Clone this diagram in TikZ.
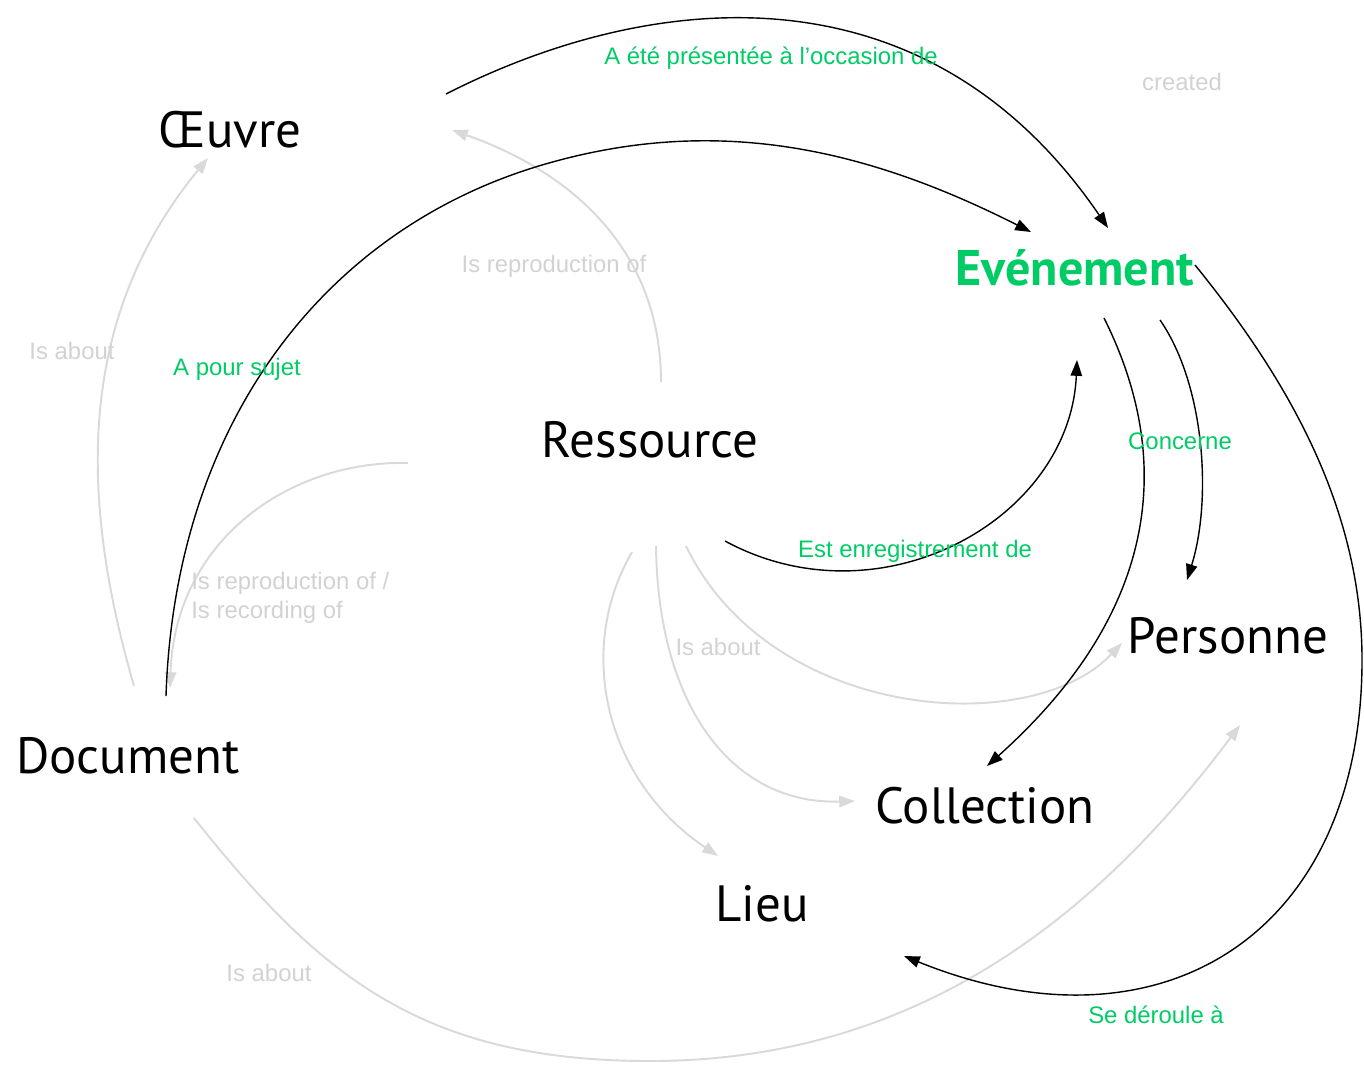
\documentclass[tikz,border=0pt]{standalone}
\usepackage{fontspec}
\setmainfont{Liberation Sans}
\newfontfamily\nodefont{PT Sans}
\usetikzlibrary{arrows.meta}
\definecolor{evgreen}{RGB}{0,204,102}
\definecolor{lightgr}{RGB}{217,217,217}
\definecolor{labgr}{RGB}{210,210,210}
\tikzset{
  entity/.style={inner sep=0pt, font=\nodefont\fontsize{29}{33}\selectfont, text=black},
  rel/.style={inner sep=0pt, font=\fontsize{13.6}{16}\selectfont, text=evgreen},
  grlab/.style={inner sep=0pt, font=\fontsize{13.6}{16}\selectfont, text=labgr},
  blackarc/.style={draw=black, line width=0.8pt, -{Triangle[length=9pt,width=6.5pt]}},
  blackline/.style={draw=black, line width=0.8pt},
  grayarc/.style={draw=lightgr, line width=1.1pt, -{Triangle[length=9pt,width=6.5pt]}},
  grayline/.style={draw=lightgr, line width=1.1pt}
}
\begin{document}
\begin{tikzpicture}[x=0.02cm,y=-0.02cm]
\useasboundingbox (0,0) rectangle (1364,1066);
% entities
\node[entity] (oeuvre) at (230,130) {Œuvre};
\node[entity, text=evgreen, font=\nodefont\bfseries\fontsize{28.5}{32}\selectfont] (event) at (1075,268) {Evénement};
\node[entity] (ressource) at (650,440) {Ressource};
\node[entity] (personne) at (1228,636) {Personne};
\node[entity] (document) at (128,756) {Document};
\node[entity] (collection) at (985,806) {Collection};
\node[entity] (lieu) at (762,904) {Lieu};
% connector end points
\coordinate (oeR) at (446,94);
\coordinate (evTL) at (1108,228);
\coordinate (docT) at (166,696);
\coordinate (mid1) at (549,163);
\coordinate (evL) at (1031,232);
\coordinate (resB) at (725,541);
\coordinate (evB) at (1077,360);
\coordinate (evB1) at (1104,318);
\coordinate (colT) at (987,766);
\coordinate (evB2) at (1160,320);
\coordinate (perT) at (1187,580);
\coordinate (evR) at (1195,265);
\coordinate (rightmost) at (1362,660);
\coordinate (lieuR) at (904,956);
\coordinate (resT) at (661,382);
\coordinate (oeR2) at (452,130);
\coordinate (docT2) at (134,686);
\coordinate (oeB) at (208,158);
\coordinate (resL) at (408,463);
\coordinate (docT3) at (170,688);
\coordinate (resB1) at (632,552);
\coordinate (lieuT) at (718,856);
\coordinate (resB2) at (656,546);
\coordinate (colL) at (855,801);
\coordinate (resB3) at (686,546);
\coordinate (perL) at (1122,643);
\coordinate (docB) at (194,818);
\coordinate (bottom) at (650,1061);
\coordinate (perB) at (1240,725);
% gray connectors
\draw[grayarc] (resT) .. controls (661,252) and (574,173) .. (oeR2);
\draw[grayarc] (docT2) .. controls (80,500) and (75,320) .. (oeB);
\draw[grayarc] (resL) .. controls (290,460) and (175,540) .. (docT3);
\draw[grayarc] (resB1) .. controls (575,650) and (605,780) .. (lieuT);
\draw[grayarc] (resB2) .. controls (658,710) and (735,805) .. (colL);
\draw[grayarc] (resB3) .. controls (770,720) and (1030,740) .. (perL);
\draw[grayline] (docB) .. controls (318,974) and (420,1061) .. (bottom);
\draw[grayarc] (bottom) .. controls (930,1061) and (1108,901) .. (perB);
% black connectors
\draw[blackarc] (oeR) .. controls (650,-10) and (925,-40) .. (evTL);
\draw[blackline] (docT) .. controls (175,420) and (328,225) .. (mid1);
\draw[blackarc] (mid1) .. controls (722,114) and (871,151) .. (evL);
\draw[blackarc] (resB) .. controls (880,625) and (1070,520) .. (evB);
\draw[blackarc] (evB1) .. controls (1180,470) and (1150,620) .. (colT);
\draw[blackarc] (evB2) .. controls (1205,385) and (1212,500) .. (perT);
\draw[blackline] (evR) .. controls (1290,382) and (1362,510) .. (rightmost);
\draw[blackarc] (rightmost) .. controls (1362,935) and (1160,1060) .. (lieuR);
% relation labels
\node[rel] (lpres) at (771,58) {A été présentée à l’occasion de};
\node[grlab] (lcreated) at (1182,82) {created};
\node[grlab] (lrepro) at (554,266) {Is reproduction of};
\node[grlab] (labout1) at (72,351) {Is about};
\node[rel] (lsujet) at (237,369) {A pour sujet};
\node[rel] (lconcerne) at (1180,441) {Concerne};
\node[rel] (lenreg) at (915,551) {Est enregistrement de};
\node[grlab, anchor=west, align=left, font=\fontsize{13.6}{16.8}\selectfont] (lreprorec) at (191,598) {Is reproduction of /\\Is recording of};
\node[grlab] (labout2) at (718,647) {Is about};
\node[grlab] (labout3) at (269,973) {Is about};
\node[rel] (lderoule) at (1156,1015) {Se déroule à};
\end{tikzpicture}
\end{document}
